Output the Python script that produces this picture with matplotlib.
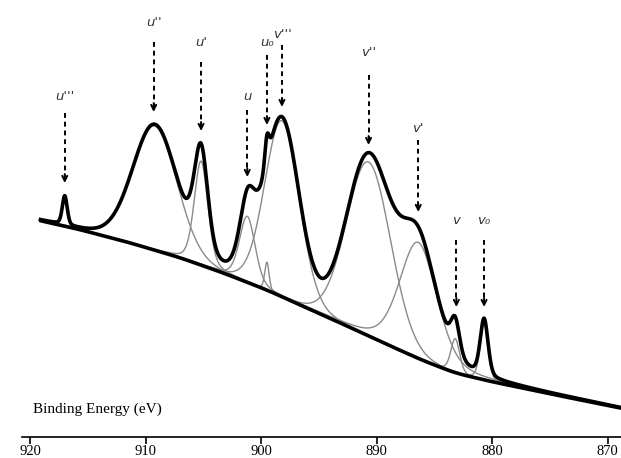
import numpy as np
import matplotlib
matplotlib.use("Agg")
import matplotlib.pyplot as plt

# Shirley-type background (binding energy eV, intensity a.u.)
bg_energy = [919.1, 915.9, 911.6, 907.2, 903.5, 899.7, 896.8, 893.9,
             889.0, 886.1, 883.2, 880.3, 877.4, 874.5, 871.6, 868.9]
bg_counts = [237.3, 229.0, 216.0, 201.0, 186.0, 169.0, 154.0, 139.0,
             113.0, 98.0, 85.0, 77.0, 70.0, 63.0, 56.3, 50.0]

# fitted components
peak_names = ["u'''", "u''", "u'", "u", "u0", "v'''", "v''", "v'", "v", "v0"]
peak_center = [917.0, 909.2, 905.2, 901.2, 899.5, 898.2, 890.7, 886.4, 883.2, 880.7]
peak_height = [29.0, 124.0, 104.0, 66.0, 28.0, 176.0, 174.0, 116.0, 34.0, 57.0]
peak_fwhm = [0.5, 4.5, 1.4, 1.6, 0.45, 3.5, 4.5, 3.8, 0.9, 0.8]
peak_mix = [0.3, 0.1, 0.3, 0.3, 0.3, 0.1, 0.05, 0.3, 0.3, 0.3]

tick_values = [920, 910, 900, 890, 880, 870]


def gl_peak(e, c, h, w, m):
    g = np.exp(-4 * np.log(2) * (e - c) ** 2 / w ** 2)
    l = 1.0 / (1 + 4 * (e - c) ** 2 / w ** 2)
    return h * ((1 - m) * g + m * l)


energy = np.linspace(bg_energy[0], bg_energy[-1], 3000)
background = np.interp(energy, bg_energy[::-1], bg_counts[::-1])
# soften the corners between the read points
n = 60
padded = np.pad(background, n, mode="reflect", reflect_type="odd")
background = np.convolve(padded, np.ones(2 * n + 1) / (2 * n + 1), mode="same")[n:-n]

fig = plt.figure(figsize=(6.21, 4.58), dpi=100)
ax = fig.add_axes([22 / 621, 21 / 458, 599 / 621, 437 / 458])

envelope = background.copy()
for c, h, w, m in zip(peak_center, peak_height, peak_fwhm, peak_mix):
    comp = gl_peak(energy, c, h, w, m)
    envelope += comp
    ax.plot(energy, background + comp, color="#8a8a8a", lw=1.0, zorder=2)

ax.plot(energy, background, color="black", lw=2.6, zorder=3,
        solid_capstyle="round")
ax.plot(energy, envelope, color="black", lw=2.6, zorder=4)

# dashed arrows pointing at the peaks: (label, energy, label y, arrow top, arrow tip)
arrow_spec = [
    ("u'''", 917.0, 361, 345, 275),
    ("u''", 909.3, 435, 416, 346),
    ("u'", 905.2, 415, 396, 327),
    ("u", 901.2, 361, 348, 281),
    ("u\u2080", 899.5, 416, 403, 333),
    ("v'''", 898.2, 424, 413, 351),
    ("v''", 890.7, 405, 383, 313),
    ("v'", 886.4, 330, 318, 246),
    ("v", 883.1, 237, 218, 151),
    ("v\u2080", 880.7, 237, 218, 151),
]
for lab, e, ly, top, tip in arrow_spec:
    ax.plot([e, e], [top, tip + 4], color="black", lw=1.4, ls=(0, (2.5, 2)),
            zorder=5)
    ax.annotate("", xy=(e, tip), xytext=(e, tip + 9),
                arrowprops=dict(arrowstyle="->", color="black", lw=1.4,
                                shrinkA=0, shrinkB=0, mutation_scale=9),
                zorder=5)
    ax.text(e, ly, lab, ha="center", va="center", fontsize=9.5,
            style="italic", color="#333333", family="DejaVu Sans")

ax.set_xlim(920.7, 868.85)
ax.set_ylim(21, 458)
for side in ["left", "right", "top"]:
    ax.spines[side].set_visible(False)
ax.spines["bottom"].set_linewidth(1.2)
ax.set_yticks([])
ax.set_xticks(tick_values)
ax.set_xticklabels([str(t) for t in tick_values], family="Liberation Serif",
                   fontsize=10.5)
ax.tick_params(axis="x", direction="out", length=5, width=1.2, pad=1)

ax.text(0.018, 0.063, "Binding Energy (eV)", transform=ax.transAxes,
        family="Liberation Serif", fontsize=11, ha="left", va="center")

fig.savefig("out.png", dpi=100)
